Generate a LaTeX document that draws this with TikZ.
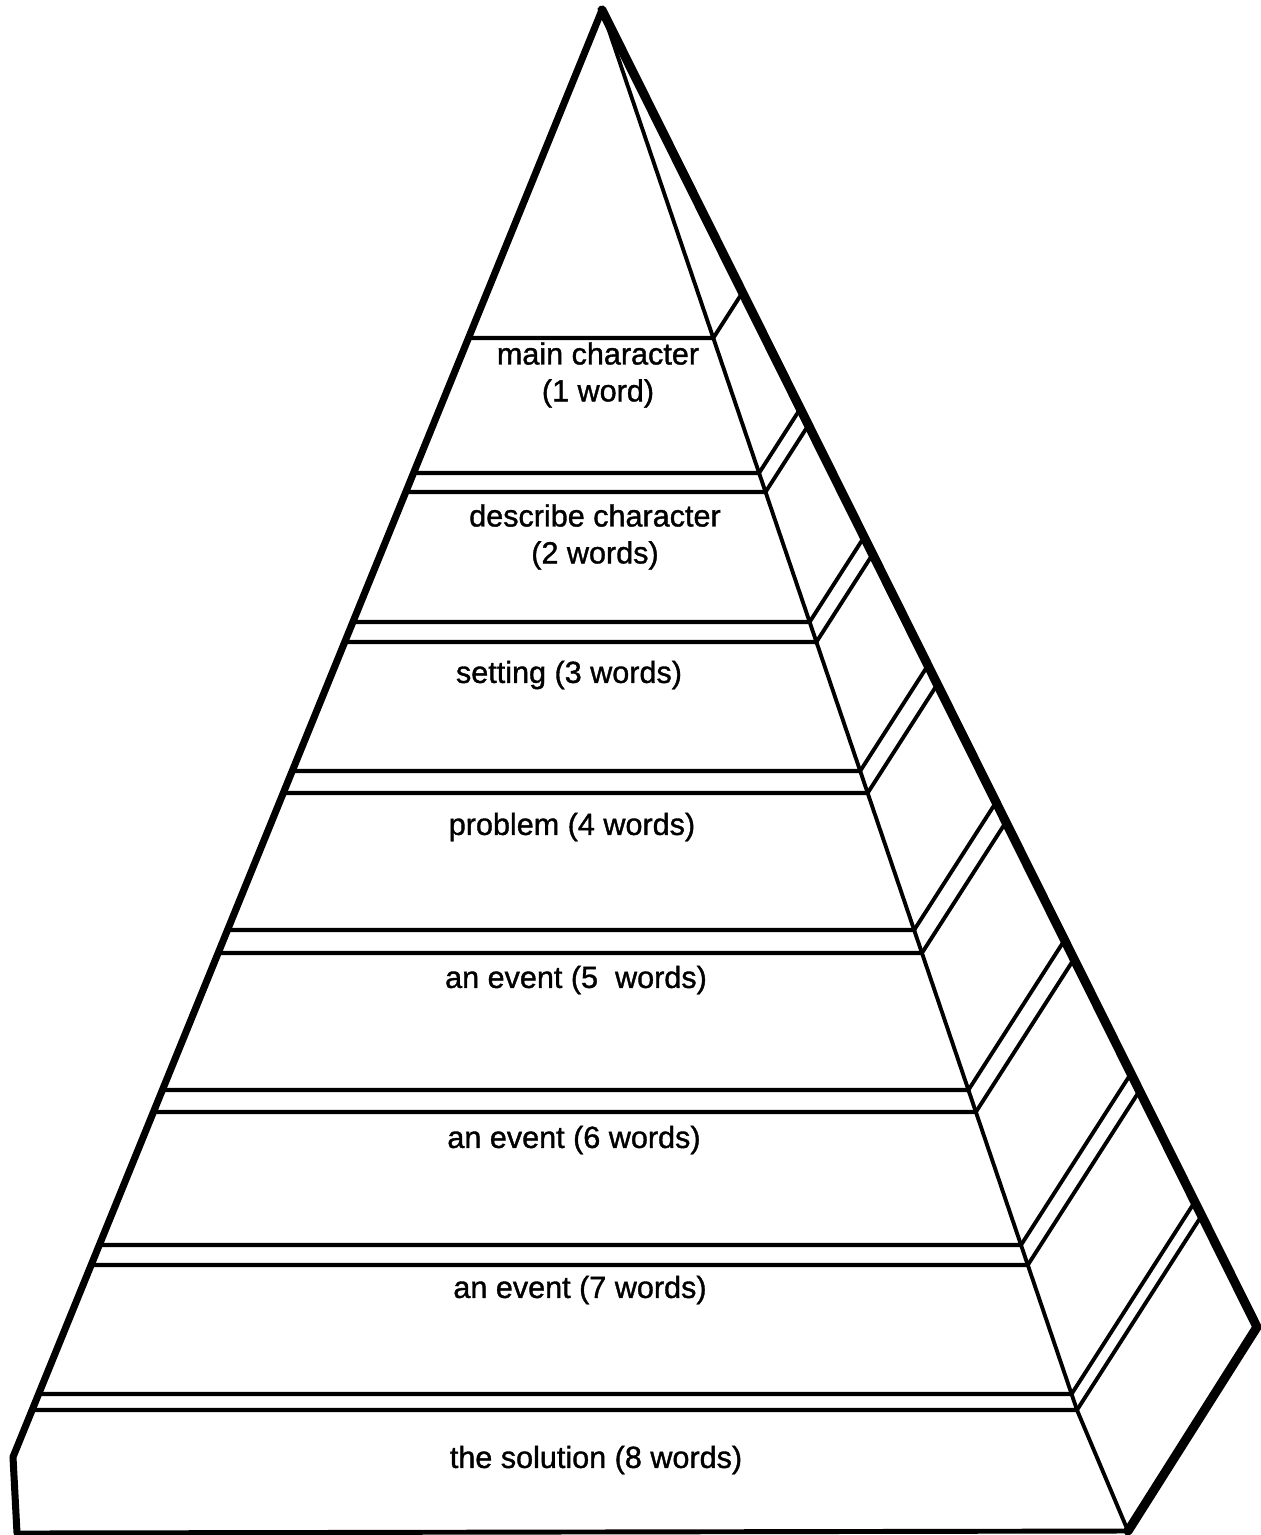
\documentclass[tikz,border=0pt]{standalone}
\usepackage{fontspec}
\setmainfont{Liberation Sans}
\newfontfamily\labelfont{Liberation Sans}[FakeBold=1.2]
\usepackage{tkz-euclide}
\usetikzlibrary{calc}
\definecolor{EdgeClr}{RGB}{0,0,0}
\tikzset{
  band/.style={line width=1.2pt,color=EdgeClr,line cap=round},
  slant/.style={line width=1.1pt,color=EdgeClr,line cap=round},
  label/.style={font=\labelfont\fontsize{8.7}{10.5}\selectfont,align=center,inner sep=0pt}
}

\begin{document}
\begin{tikzpicture}
\useasboundingbox (0,0) rectangle (12.60,-15.35);
\tkzSetUpLine[line width=1.1pt,color=EdgeClr]

\tkzDefPoint(6.02,-0.10){A}
\tkzDefPoint(0.13,-14.57){L}
\tkzDefPoint(0.17,-15.33){F}
\tkzDefPoint(11.28,-15.31){B}
\tkzDefPoint(12.57,-13.27){R}
\tkzDefPoint(10.77,-14.10){K}

% bands: y in px, front face then side face
\foreach \y [evaluate=\y as \s using (\y-10)/1447,
             evaluate=\y as \t using (\y-10)/1400] in
    {338,473,492,622,642,771,793,930,953,1090,1112,1245,1265,1394,1410}{
  \coordinate (P) at ($(A)!\s!(L)$);
  \coordinate (J) at ($(A)!\t!(K)$);
  \coordinate (J2) at ($(J)+(1,1.56)$);
  \draw[band] (P) -- (J);
  \draw[slant] (J) -- (intersection of J--J2 and A--R);
}

\tkzDrawPolySeg[line width=1.1pt,line join=round](A,K,B)
\tkzDrawPolySeg[line width=2pt,line join=round](A,L,F)
\tkzDrawSegment[line width=1.4pt](F,B)
\tkzDrawPolySeg[line width=2.6pt,line join=round](A,R,B)

\node[label] (main) at (5.98,-3.75) {main character\\(1 word)};
\node[label] (describe) at (5.95,-5.37) {describe character\\(2 words)};
\node[label] (setting) at (5.69,-6.75) {setting (3 words)};
\node[label] (problem) at (5.72,-8.27) {problem (4 words)};
\node[label] (eventA) at (5.76,-9.80) {an event (5~~words)};
\node[label] (eventB) at (5.74,-11.40) {an event (6 words)};
\node[label] (eventC) at (5.80,-12.90) {an event (7 words)};
\node[label] (solution) at (5.96,-14.60) {the solution (8 words)};

\end{tikzpicture}
\end{document}
